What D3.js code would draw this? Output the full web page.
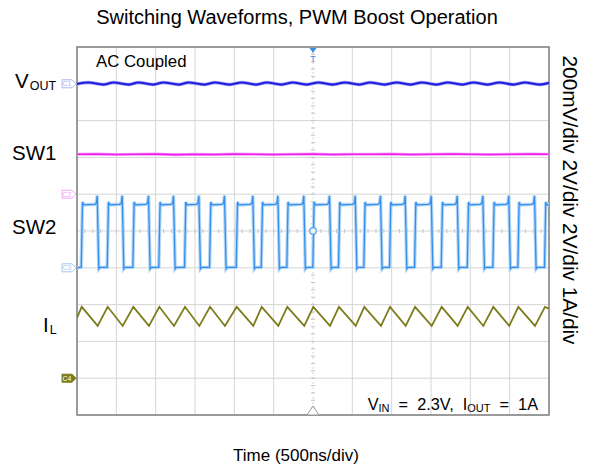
<!DOCTYPE html>
<html>
<head>
<meta charset="UTF-8">
<title>Switching Waveforms, PWM Boost Operation</title>
<script src="https://d3js.org/d3.v7.min.js"></script>
<style>
  body { margin: 0; background: #fff; }
  svg { display: block; font-family: "Liberation Sans", Arial, sans-serif; }
  .grid line { stroke: #d6d6d6; stroke-width: 1; }
  .minor line { stroke: #c4c4c4; stroke-width: 1; }
</style>
</head>
<body>
<div id="chart"></div>
<script>
// scope settings: 12 time divisions of 500ns, 10 vertical divisions
const timeRange = [-3000, 3000];          // ns
const divRange = [-5, 5];
const channelNames = ["V", "SW1", "SW2", "I"];
const channelSubs = ["OUT", "", "", "L"];
const channelOffsets = [4, 1, -1, -4];    // marker position, divisions
const channelPerDiv = [200, 2, 2, 1];     // mV, V, V, A per div
const channelColors = ["#1e1ee0", "#f01ef0", "#3590ec", "#7c7c1c"];
const scaleLabels = ["200mV/div", "2V/div", "2V/div", "1A/div"];

// SW2 edges (ns)
const sw2Rise = [-2940, -2610, -2284, -1954, -1627, -1309, -970, -652, -327, 4,
                 330, 652, 979, 1297, 1636, 1967, 2292, 2610, 2949];
const sw2Fall = [-2737, -2419, -2085, -1767, -1445, -1119, -759, -441, -111, 216,
                 543, 864, 1178, 1509, 1839, 2165, 2495, 2822];
const sw2Levels = [0, 3.42, 3.92];        // low, plateau, spike (V)

// inductor current: peaks at SW2 rise, valleys at SW2 fall (A)
const ilLevels = [1.42, 1.94];            // valley, peak
const ilEnds = [1.64, 1.89];              // value at left / right edge

// VOUT ripple, AC coupled (mV)
const voutPeakT = [-2856, -2539, -2221, -1903, -1585, -1246, -906, -589, -258, 67,
                   407, 725, 1064, 1385, 1712, 2040, 2368, 2692];
const voutValleyT = [-2660, -2340, -2030, -1700, -1380, -1060, -720, -400, -80, 250,
                     590, 910, 1240, 1570, 1900, 2220, 2550, 2880];
const voutLevels = [-4, 7];
const voutEnds = [-1, 5];

// SW1 (V), sampled every 250ns
const sw1Values = [2.17, 2.18, 2.16, 2.17, 2.18, 2.15, 2.17, 2.16, 2.18, 2.17, 2.16, 2.17, 2.18,
                   2.16, 2.17, 2.17, 2.18, 2.16, 2.17, 2.18, 2.17, 2.16, 2.17, 2.18, 2.17];

const width = 595, height = 472;
const plotL = 77, plotR = 549, plotT = 47, plotB = 415;

const svg = d3.select("#chart").append("svg")
  .attr("width", width).attr("height", height);

const x = d3.scaleLinear().domain(timeRange).range([plotL, plotR]);
const yDiv = d3.scaleLinear().domain(divRange).range([plotB, plotT]);
const chY = (ch, v) => yDiv(channelOffsets[ch] + v / channelPerDiv[ch]);

// grid
const xTicks = d3.range(timeRange[0], timeRange[1] + 1, 500);
const yTicks = d3.range(divRange[0], divRange[1] + 1, 1);
const grid = svg.append("g").attr("class", "grid");
grid.selectAll("line.v").data(xTicks.filter(t => t !== 0)).join("line")
  .attr("x1", d => x(d)).attr("x2", d => x(d)).attr("y1", plotT).attr("y2", plotB);
grid.selectAll("line.h").data(yTicks).join("line")
  .attr("x1", plotL).attr("x2", plotR).attr("y1", d => yDiv(d)).attr("y2", d => yDiv(d));
grid.append("line")
  .attr("x1", x(0)).attr("x2", x(0)).attr("y1", plotT).attr("y2", plotB)
  .style("stroke-dasharray", "2,3");

// minor ticks on centre lines
const minor = svg.append("g").attr("class", "minor");
minor.selectAll("line.mx").data(d3.range(timeRange[0], timeRange[1], 100)).join("line")
  .attr("x1", d => x(d)).attr("x2", d => x(d))
  .attr("y1", yDiv(0) - 2).attr("y2", yDiv(0) + 2);
minor.selectAll("line.my").data(d3.range(divRange[0], divRange[1], 0.2)).join("line")
  .attr("y1", d => yDiv(d)).attr("y2", d => yDiv(d))
  .attr("x1", x(0) - 2).attr("x2", x(0) + 2);

// frame
svg.append("rect")
  .attr("x", plotL).attr("y", plotT).attr("width", plotR - plotL).attr("height", plotB - plotT)
  .attr("fill", "none").attr("stroke", "#808080").attr("stroke-width", 1.5);

svg.append("clipPath").attr("id", "plot")
  .append("rect").attr("x", plotL).attr("y", plotT).attr("width", plotR - plotL).attr("height", plotB - plotT);

const traces = svg.append("g").attr("clip-path", "url(#plot)");

// build point lists
const voutPts = [[timeRange[0], voutEnds[0]]];
voutPeakT.forEach((p, i) => {
  voutPts.push([p, voutLevels[1]]);
  voutPts.push([voutValleyT[i], voutLevels[0]]);
});
voutPts.push([timeRange[1], voutEnds[1]]);

const sw1Pts = sw1Values.map((v, i) => [timeRange[0] + i * 250, v]);

const sw2Pts = [[timeRange[0], sw2Levels[0]]];
sw2Rise.forEach((r, i) => {
  sw2Pts.push([r - 6, sw2Levels[0] + 0.03], [r + 10, sw2Levels[1] + 0.16], [r + 25, sw2Levels[1]]);
  const f = sw2Fall[i];
  if (f !== undefined) {
    sw2Pts.push([f - 40, sw2Levels[1] + 0.03], [f - 18, sw2Levels[1] + 0.08],
                [f - 6, sw2Levels[2]], [f + 14, sw2Levels[0] - 0.06], [f + 30, sw2Levels[0] + 0.02]);
  } else {
    sw2Pts.push([timeRange[1], sw2Levels[1]]);
  }
});

const ilPts = [[timeRange[0], ilEnds[0]]];
sw2Rise.forEach((r, i) => {
  ilPts.push([r, ilLevels[1]]);
  if (sw2Fall[i] !== undefined) ilPts.push([sw2Fall[i], ilLevels[0]]);
});
ilPts.push([timeRange[1], ilEnds[1]]);

function line(ch, curve) {
  return d3.line().x(d => x(d[0])).y(d => chY(ch, d[1])).curve(curve || d3.curveLinear);
}

// VOUT
traces.append("path").datum(voutPts)
  .attr("d", line(0, d3.curveMonotoneX))
  .attr("fill", "none").attr("stroke", "#a8a8f4").attr("stroke-width", 3.6);
traces.append("path").datum(voutPts)
  .attr("d", line(0, d3.curveMonotoneX))
  .attr("fill", "none").attr("stroke", channelColors[0]).attr("stroke-width", 2.2);

// SW1
traces.append("path").datum(sw1Pts)
  .attr("d", line(1))
  .attr("fill", "none").attr("stroke", "#f6a6f6").attr("stroke-width", 3);
traces.append("path").datum(sw1Pts)
  .attr("d", line(1))
  .attr("fill", "none").attr("stroke", channelColors[1]).attr("stroke-width", 1.6);

// SW2
traces.append("path").datum(sw2Pts)
  .attr("d", line(2))
  .attr("fill", "none").attr("stroke", "#b4d6f6").attr("stroke-width", 3.5);
traces.append("path").datum(sw2Pts)
  .attr("d", line(2))
  .attr("fill", "none").attr("stroke", channelColors[2]).attr("stroke-width", 1.3);

// IL
traces.append("path").datum(ilPts)
  .attr("d", line(3))
  .attr("fill", "none").attr("stroke", channelColors[3]).attr("stroke-width", 1.8)
  .attr("stroke-linejoin", "miter");

// centre marker on SW2
svg.append("circle").attr("cx", x(0)).attr("cy", yDiv(0)).attr("r", 3.3)
  .attr("fill", "#eaf3fd").attr("stroke", "#5aa0ea").attr("stroke-width", 1.2);

// trigger markers
svg.append("path")
  .attr("d", `M${x(0) - 3.5},${plotT + 1}L${x(0) + 3.5},${plotT + 1}L${x(0)},${plotT + 6}Z`)
  .attr("fill", "#3a8ee8");
svg.append("text").attr("x", x(0)).attr("y", plotT + 15).attr("text-anchor", "middle")
  .attr("font-size", 9).attr("fill", "#3a8ee8").text("T");
svg.append("path")
  .attr("d", `M${x(0) - 6},${plotB}L${x(0) + 6},${plotB}L${x(0)},${plotB - 9}Z`)
  .attr("fill", "#fff").attr("stroke", "#999").attr("stroke-width", 1);

// channel tags
const tagStroke = ["#a6b6f2", "#f2a6f2", "#a6c8f2", "#7c7c1c"];
channelOffsets.forEach((off, i) => {
  const cy = yDiv(off);
  const g = svg.append("g");
  g.append("path")
    .attr("d", `M62,${cy - 4}L72,${cy - 4}L76,${cy}L72,${cy + 4}L62,${cy + 4}Z`)
    .attr("fill", i === 3 ? tagStroke[i] : "#fff")
    .attr("stroke", tagStroke[i]).attr("stroke-width", 1);
  g.append("text").attr("x", 67).attr("y", cy + 2.5).attr("text-anchor", "middle")
    .attr("font-size", 7).attr("fill", i === 3 ? "#fff" : tagStroke[i])
    .text("C" + (i + 1));
});

// channel labels
const labelPos = [[15, 88], [12, 159.5], [12, 234], [43, 332]];
channelNames.forEach((n, i) => {
  const t = svg.append("text").attr("x", labelPos[i][0]).attr("y", labelPos[i][1])
    .attr("font-size", 20.5).attr("fill", "#000").text(n);
  if (channelSubs[i]) {
    t.append("tspan").attr("font-size", 12.5).attr("dy", 2).attr("dx", 1)
      .text(channelSubs[i]);
  }
});

// texts
svg.append("text").attr("x", 297).attr("y", 24).attr("text-anchor", "middle")
  .attr("font-size", 20).attr("fill", "#000")
  .text("Switching Waveforms, PWM Boost Operation");
svg.append("text").attr("x", 296).attr("y", 461).attr("text-anchor", "middle")
  .attr("font-size", 17).attr("fill", "#000")
  .text("Time (500ns/div)");
svg.append("text").attr("x", 96).attr("y", 67)
  .attr("font-size", 16.8).attr("fill", "#000").text("AC Coupled");
svg.append("text")
  .attr("transform", "translate(563,200) rotate(90)")
  .attr("text-anchor", "middle").attr("font-size", 20.8).attr("fill", "#000")
  .text(scaleLabels.join(" "));

const cond = svg.append("text").attr("x", 538).attr("y", 409.5)
  .attr("text-anchor", "end").attr("font-size", 16.3).attr("fill", "#000")
  .attr("xml:space", "preserve");
cond.append("tspan").text("V");
cond.append("tspan").attr("font-size", 11).attr("dy", 2).text("IN");
cond.append("tspan").attr("dy", -2).text("  =  2.3V,  I");
cond.append("tspan").attr("font-size", 11).attr("dy", 2).text("OUT");
cond.append("tspan").attr("dy", -2).text("  =  1A");
</script>
</body>
</html>
